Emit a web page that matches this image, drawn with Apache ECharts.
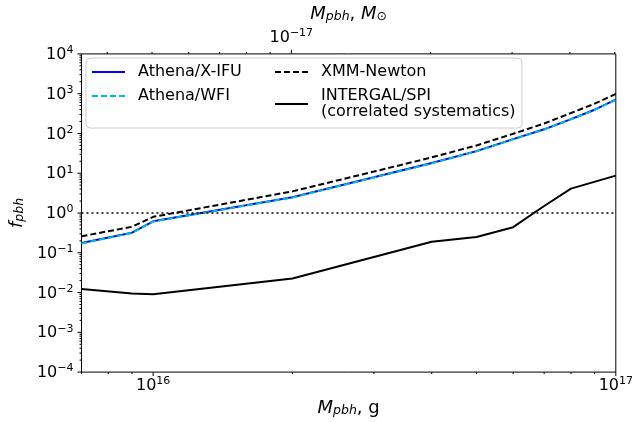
<!DOCTYPE html>
<html><head><meta charset="utf-8">
<script src="https://cdn.jsdelivr.net/npm/echarts@6/dist/echarts.min.js"></script>
<style>html,body{margin:0;padding:0;background:#fff}#c{width:636px;height:422px}</style>
</head><body><div id="c"></div>
<script>
// ---- data ----
const massG = [7e15, 9e15, 1e16, 2e16, 3e16, 4e16, 5e16, 6e16, 7e16, 8e16, 9e16, 1e17];
const athenaXIFU = [0.176, 0.32, 0.62, 2.5, 7.9, 18, 36, 72, 127, 229, 395, 708];
const athenaWFI  = [0.172, 0.315, 0.61, 2.45, 7.8, 17.7, 35.5, 71, 125, 226, 390, 700];
const xmmNewton  = [0.26, 0.45, 0.80, 3.5, 11, 25, 50, 98, 178, 326, 560, 985];
const integralMass = [7e15, 9e15, 1e16, 2e16, 4e16, 5e16, 6e16, 7e16, 8e16, 1e17];
const integralSPI  = [0.0123, 0.0094, 0.0091, 0.0226, 0.19, 0.25, 0.44, 1.5, 4.1, 8.7];
const seriesNames = ['Athena/X-IFU', 'Athena/WFI', 'XMM-Newton', 'INTERGAL/SPI\n(correlated systematics)'];
const xRange = [7e15, 1e17];
const yRange = [1e-4, 1e4];
const fLine = 1;
const M_SUN_G = 1.989e33;
// tick positions
const bottomMajor = [1e16, 1e17];
const bottomMinor = [7e15, 8e15, 9e15, 2e16, 3e16, 4e16, 5e16, 6e16, 7e16, 8e16, 9e16];
const topMajor = [1e-17];
const topMinor = [4e-18, 5e-18, 6e-18, 7e-18, 8e-18, 9e-18, 2e-17, 3e-17, 4e-17, 5e-17];
const yDecades = [-4, -3, -2, -1, 0, 1, 2, 3, 4];
const yMinorMult = [2, 3, 4, 5, 6, 7, 8, 9];

const FONT = 'DejaVu Sans';
const pairs = (xs, ys) => xs.map((x, i) => [x, ys[i]]);

function powLabel(v) {
  const l = Math.log10(v), e = Math.round(l);
  if (Math.abs(l - e) > 1e-6) return '';
  const s = e < 0 ? '\u2212' + (-e) : String(e);
  return '{b|10}{s|' + s + '}';
}
const powRich = {
  b: {fontSize: 16, fontFamily: FONT, color: '#000', lineHeight: 18, verticalAlign: 'bottom'},
  s: {fontSize: 11, fontFamily: FONT, color: '#000', lineHeight: 8, verticalAlign: 'top'}
};
const nameRich = {
  i: {fontSize: 18, fontFamily: FONT, fontStyle: 'italic', color: '#000', lineHeight: 20, verticalAlign: 'bottom'},
  n: {fontSize: 18, fontFamily: FONT, color: '#000', lineHeight: 20, verticalAlign: 'bottom'},
  sub: {fontSize: 12.5, fontFamily: FONT, fontStyle: 'italic', color: '#000', lineHeight: 8, verticalAlign: 'bottom'},
  subn: {fontSize: 12.5, fontFamily: FONT, color: '#000', lineHeight: 8, verticalAlign: 'bottom'}
};

// tick data: [x, y, side, length]  side 0=bottom,1=left,2=top
const tickData = [];
bottomMajor.forEach(v => tickData.push([v, yRange[0], 0, 4]));
bottomMinor.forEach(v => tickData.push([v, yRange[0], 0, 2]));
yDecades.forEach(e => {
  tickData.push([xRange[0], Math.pow(10, e), 1, 4]);
  if (e < 4) yMinorMult.forEach(k => tickData.push([xRange[0], k * Math.pow(10, e), 1, 2]));
});
const topTickData = [];
topMajor.forEach(v => topTickData.push([v, yRange[1], 2, 4]));
topMinor.forEach(v => topTickData.push([v, yRange[1], 2, 2]));

function renderTick(params, api) {
  const p = api.coord([api.value(0), api.value(1)]);
  const side = api.value(2), len = api.value(3);
  let shape;
  if (side === 0) shape = {x1: p[0], y1: p[1], x2: p[0], y2: p[1] + len};
  else if (side === 1) shape = {x1: p[0], y1: p[1], x2: p[0] - len, y2: p[1]};
  else shape = {x1: p[0], y1: p[1], x2: p[0], y2: p[1] - len};
  return {type: 'line', shape: shape, style: {stroke: '#000', lineWidth: 1}};
}

const legendCommon = {
  orient: 'vertical', top: 64, padding: 0,
  itemWidth: 33, itemHeight: 14, itemGap: 8, selectedMode: false, z: 6,
  itemStyle: {opacity: 0, borderWidth: 0},
  textStyle: {fontSize: 16, fontFamily: FONT, color: '#000', lineHeight: 16, padding: [0, 0, 0, 8]}
};

const chart = echarts.init(document.getElementById('c'), null, {renderer: 'canvas'});
chart.setOption({
  animation: false,
  backgroundColor: '#fff',
  grid: {left: 77, right: 14, top: 51, bottom: 46, show: true, borderColor: '#000', borderWidth: 1, backgroundColor: 'transparent'},
  xAxis: [{
    type: 'log', logBase: 10, min: xRange[0], max: xRange[1], position: 'bottom',
    axisLine: {show: false}, axisTick: {show: false}, splitLine: {show: false},
    axisLabel: {formatter: powLabel, rich: powRich, margin: 4, showMinLabel: false},
    name: '{i|M}{sub|pbh}{n|, g}', nameLocation: 'middle', nameGap: 24,
    nameTextStyle: {rich: nameRich}
  }, {
    type: 'log', logBase: 10, min: xRange[0] / M_SUN_G, max: xRange[1] / M_SUN_G, position: 'top',
    axisLine: {show: false}, axisTick: {show: false}, splitLine: {show: false},
    axisLabel: {formatter: powLabel, rich: powRich, margin: 8, showMinLabel: false, showMaxLabel: false},
    name: '{i|M}{sub|pbh}{n|, }{i|M}{subn|\u2299}', nameLocation: 'middle', nameGap: 26,
    nameTextStyle: {rich: nameRich}
  }],
  yAxis: [{
    type: 'log', logBase: 10, min: yRange[0], max: yRange[1],
    axisLine: {show: false}, axisTick: {show: false}, splitLine: {show: false},
    axisLabel: {formatter: powLabel, rich: powRich, margin: 8},
    name: '{i|f}{sub|pbh}', nameLocation: 'middle', nameGap: 51, nameRotate: 90,
    nameTextStyle: {rich: nameRich}
  }],
  legend: [
    Object.assign({data: [seriesNames[0], seriesNames[1]], left: 91}, legendCommon),
    Object.assign({data: [seriesNames[2], seriesNames[3]], left: 274}, legendCommon)
  ],
  graphic: [{
    type: 'rect', z: 5, silent: true,
    shape: {x: 86, y: 58, width: 436, height: 70, r: 4},
    style: {fill: 'rgba(255,255,255,0.8)', stroke: '#cccccc', lineWidth: 1}
  }],
  series: [{
    name: seriesNames[0], type: 'line', data: pairs(massG, athenaXIFU), symbol: 'none',
    lineStyle: {color: '#0000ff', width: 2}, itemStyle: {color: '#0000ff'}, z: 2,
    markLine: {silent: true, symbol: ['none', 'none'], label: {show: false},
      lineStyle: {color: '#000', type: [2, 3], width: 1.5}, data: [{yAxis: fLine}]}
  }, {
    name: seriesNames[1], type: 'line', data: pairs(massG, athenaWFI), symbol: 'none',
    lineStyle: {color: '#00bfbf', width: 2, type: [6, 3]}, itemStyle: {color: '#00bfbf'}, z: 3
  }, {
    name: seriesNames[2], type: 'line', data: pairs(massG, xmmNewton), symbol: 'none',
    lineStyle: {color: '#000', width: 2, type: [6, 3]}, itemStyle: {color: '#000'}, z: 3
  }, {
    name: seriesNames[3], type: 'line', data: pairs(integralMass, integralSPI), symbol: 'none',
    lineStyle: {color: '#000', width: 2}, itemStyle: {color: '#000'}, z: 3
  }, {
    type: 'custom', xAxisIndex: 0, yAxisIndex: 0, data: tickData, renderItem: renderTick, silent: true, clip: false, z: 4
  }, {
    type: 'custom', xAxisIndex: 1, yAxisIndex: 0, data: topTickData, renderItem: renderTick, silent: true, clip: false, z: 4
  }]
});
</script>
</body></html>
